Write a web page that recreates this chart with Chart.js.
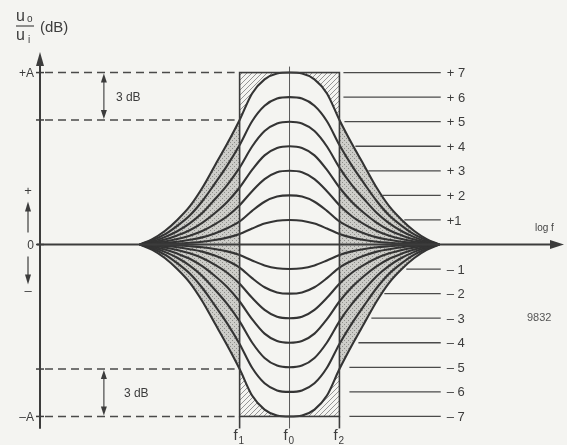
<!DOCTYPE html>
<html>
<head>
<meta charset="utf-8">
<script src="https://cdn.jsdelivr.net/npm/chart.js@4.4.1/dist/chart.umd.min.js"></script>
<style>
  html, body { margin: 0; padding: 0; background: #f4f4f1; }
  #wrap { width: 567px; height: 445px; position: relative; }
</style>
</head>
<body>
<div id="wrap"><canvas id="eqChart"></canvas></div>
<script>
// half of each bell: log f offset from f0 (f1 = -1, f2 = +1)
const offsets = [0, 0.25, 0.5, 0.75, 1, 1.25, 1.5, 1.75, 2, 2.25, 2.5, 2.75, 3];
const levels = [1, 2, 3, 4, 5, 6, 7];
const curve1 = [1, 0.97, 0.85, 0.65, 0.43, 0.28, 0.18, 0.11, 0.07, 0.04, 0.02, 0.01, 0];
const curve2 = [2, 1.95, 1.74, 1.37, 0.94, 0.66, 0.45, 0.29, 0.19, 0.11, 0.06, 0.03, 0];
const curve3 = [3, 2.94, 2.66, 2.17, 1.60, 1.15, 0.82, 0.55, 0.36, 0.22, 0.12, 0.05, 0];
const curve4 = [4, 3.93, 3.63, 3.04, 2.32, 1.73, 1.27, 0.88, 0.58, 0.37, 0.20, 0.08, 0];
const curve5 = [5, 4.93, 4.62, 3.99, 3.13, 2.42, 1.83, 1.28, 0.86, 0.54, 0.30, 0.12, 0];
const curve6 = [6, 5.94, 5.65, 5.02, 4.05, 3.21, 2.47, 1.76, 1.18, 0.76, 0.41, 0.17, 0];
const curve7 = [7, 6.96, 6.72, 6.15, 5.07, 4.10, 3.20, 2.30, 1.55, 1.00, 0.55, 0.22, 0];
const curves = [curve1, curve2, curve3, curve4, curve5, curve6, curve7];

const boostLabels = ['+1', '+ 2', '+ 3', '+ 4', '+ 5', '+ 6', '+ 7'];
const cutLabels = ['\u2013 1', '\u2013 2', '\u2013 3', '\u2013 4', '\u2013 5', '\u2013 6', '\u2013 7'];
const sideTicks = ['+A', '0', '\u2013A'];
const sideTickValues = [7, 0, -7];
const freqNames = ['1', '0', '2'];
const freqValues = [-1, 0, 1];
const band3dB = 5.07; // level where the outer curve crosses f1 / f2

function mirror(vals, sign) {
    const pts = [];
    for (let i = offsets.length - 1; i > 0; i--) pts.push({ x: -offsets[i], y: sign * vals[i] });
    offsets.forEach((u, i) => pts.push({ x: u, y: sign * vals[i] }));
    return pts;
}

const datasets = [];
levels.forEach((k, i) => {
    datasets.push({ label: '+' + k, data: mirror(curves[i], 1) });
    datasets.push({ label: '-' + k, data: mirror(curves[i], -1) });
});
datasets.forEach(d => {
    d.borderColor = '#343434';
    d.borderWidth = 2.1;
    d.pointRadius = 0;
    d.fill = false;
    d.cubicInterpolationMode = 'monotone';
});

const INK = '#3c3c3c';
const FONT = '"Liberation Sans", Arial, sans-serif';

function makePattern(size, paint) {
    const c = document.createElement('canvas');
    c.width = size; c.height = size;
    paint(c.getContext('2d'));
    return c;
}
const stippleTile = makePattern(4, g => {
    g.fillStyle = '#cdcdc9'; g.fillRect(0, 0, 4, 4);
    g.fillStyle = '#8e8e8a'; g.fillRect(0, 0, 1, 1); g.fillRect(2, 2, 1, 1);
});
const hatchTile = makePattern(5, g => {
    g.strokeStyle = '#8a8a8a'; g.lineWidth = 0.9;
    g.beginPath();
    g.moveTo(0, 5); g.lineTo(5, 0);
    g.moveTo(-1, 1); g.lineTo(1, -1);
    g.moveTo(4, 6); g.lineTo(6, 4);
    g.stroke();
});

function linePoints(chart, label) {
    const i = chart.data.datasets.findIndex(d => d.label === label);
    const meta = chart.getDatasetMeta(i);
    if (meta.dataset.updateControlPoints) meta.dataset.updateControlPoints(chart.chartArea, 'x');
    return meta.data;
}

function trace(ctx, pts, reverse) {
    const list = reverse ? pts.slice().reverse() : pts;
    list.forEach((p, i) => {
        if (i === 0) { reverse ? ctx.lineTo(p.x, p.y) : ctx.moveTo(p.x, p.y); return; }
        const q = list[i - 1];
        if (q.cp1x === undefined) { ctx.lineTo(p.x, p.y); return; }
        if (!reverse) ctx.bezierCurveTo(q.cp2x, q.cp2y, p.cp1x, p.cp1y, p.x, p.y);
        else ctx.bezierCurveTo(q.cp1x, q.cp1y, p.cp2x, p.cp2y, p.x, p.y);
    });
}

function arrowHead(ctx, x, y, dir, len, half) {
    // dir: 'up' | 'down' | 'right'
    ctx.beginPath();
    ctx.moveTo(x, y);
    if (dir === 'up') { ctx.lineTo(x - half, y + len); ctx.lineTo(x + half, y + len); }
    if (dir === 'down') { ctx.lineTo(x - half, y - len); ctx.lineTo(x + half, y - len); }
    if (dir === 'right') { ctx.lineTo(x - len, y - half); ctx.lineTo(x - len, y + half); }
    ctx.closePath();
    ctx.fill();
}

function hline(ctx, x1, x2, y) { ctx.beginPath(); ctx.moveTo(x1, y); ctx.lineTo(x2, y); ctx.stroke(); }
function vline(ctx, x, y1, y2) { ctx.beginPath(); ctx.moveTo(x, y1); ctx.lineTo(x, y2); ctx.stroke(); }

const decor = {
    id: 'decor',
    beforeDatasetsDraw(chart) {
        const { ctx, chartArea: a, scales: { x, y } } = chart;
        const top = linePoints(chart, '+7');
        const bot = linePoints(chart, '-7');
        const xf1 = x.getPixelForValue(-1), xf2 = x.getPixelForValue(1);
        const yA = y.getPixelForValue(7), yB = y.getPixelForValue(-7), y0 = y.getPixelForValue(0);

        // stippled flanks outside f1..f2
        ctx.save();
        ctx.beginPath();
        ctx.rect(a.left, a.top, xf1 - a.left, a.bottom - a.top);
        ctx.rect(xf2, a.top, a.right - xf2, a.bottom - a.top);
        ctx.clip();
        ctx.beginPath();
        trace(ctx, top, false);
        trace(ctx, bot, true);
        ctx.closePath();
        ctx.fillStyle = ctx.createPattern(stippleTile, 'repeat');
        ctx.fill();
        ctx.restore();

        // hatched corners inside the box
        const hatch = ctx.createPattern(hatchTile, 'repeat');
        ctx.save();
        ctx.beginPath();
        ctx.rect(xf1, yA, xf2 - xf1, y0 - yA);
        ctx.clip();
        ctx.beginPath();
        trace(ctx, top, false);
        ctx.lineTo(top[top.length - 1].x, yA);
        ctx.lineTo(top[0].x, yA);
        ctx.closePath();
        ctx.fillStyle = hatch;
        ctx.fill();
        ctx.restore();

        ctx.save();
        ctx.beginPath();
        ctx.rect(xf1, y0, xf2 - xf1, yB - y0);
        ctx.clip();
        ctx.beginPath();
        trace(ctx, bot, false);
        ctx.lineTo(bot[bot.length - 1].x, yB);
        ctx.lineTo(bot[0].x, yB);
        ctx.closePath();
        ctx.fillStyle = hatch;
        ctx.fill();
        ctx.restore();

        // f0 centre line
        ctx.save();
        ctx.strokeStyle = '#5a5a5a';
        ctx.lineWidth = 1;
        vline(ctx, x.getPixelForValue(0), yA - 6, yB + 12);
        ctx.restore();
    },
    afterDatasetsDraw(chart) {
        const { ctx, chartArea: a, scales: { x, y } } = chart;
        const xf1 = x.getPixelForValue(-1), xf2 = x.getPixelForValue(1);
        const yA = y.getPixelForValue(7), yB = y.getPixelForValue(-7), y0 = y.getPixelForValue(0);
        const ax = a.left;

        ctx.save();
        ctx.strokeStyle = INK;
        ctx.fillStyle = INK;

        // box f1..f2 / +A..-A
        ctx.lineWidth = 1.6;
        ctx.strokeRect(xf1, yA, xf2 - xf1, yB - yA);
        vline(ctx, xf1, yB, yB + 12);
        vline(ctx, xf2, yB, yB + 12);

        // axes
        ctx.lineWidth = 2;
        vline(ctx, ax, a.top + 10, y.getPixelForValue(-7.5));
        arrowHead(ctx, ax, a.top + 4, 'up', 14, 4);
        hline(ctx, ax - 3, a.right - 8, y0);
        arrowHead(ctx, a.right, y0, 'right', 14, 4.5);

        // ticks + labels on the vertical axis
        ctx.lineWidth = 1.5;
        ctx.font = '12px ' + FONT;
        ctx.textBaseline = 'middle';
        ctx.textAlign = 'right';
        sideTickValues.forEach((v, i) => {
            const py = y.getPixelForValue(v);
            hline(ctx, ax - 4, ax + 4, py);
            ctx.fillText(sideTicks[i], ax - 6, py + 1);
        });
        hline(ctx, ax - 4, ax + 4, y.getPixelForValue(band3dB));
        hline(ctx, ax - 4, ax + 4, y.getPixelForValue(-band3dB));

        // + / - direction arrows
        const sx = ax - 12;
        ctx.textAlign = 'center';
        ctx.font = '13px ' + FONT;
        ctx.fillText('+', sx, y0 - 53);
        ctx.fillText('\u2013', sx, y0 + 47);
        ctx.lineWidth = 1.2;
        vline(ctx, sx, y0 - 12, y0 - 35);
        arrowHead(ctx, sx, y0 - 43, 'up', 10, 3);
        vline(ctx, sx, y0 + 12, y0 + 32);
        arrowHead(ctx, sx, y0 + 40, 'down', 10, 3);

        // dashed 3 dB band lines
        ctx.strokeStyle = '#4a4a4a';
        ctx.lineWidth = 1.5;
        ctx.setLineDash([8, 5]);
        [7, band3dB, -band3dB, -7].forEach(v => hline(ctx, ax + 5, xf1 - 5, y.getPixelForValue(v)));
        ctx.setLineDash([]);

        // 3 dB arrows
        const bx = x.getPixelForValue(-3.72);
        ctx.lineWidth = 1.2;
        [[7, band3dB], [-band3dB, -7]].forEach(([hi, lo]) => {
            const y1 = y.getPixelForValue(hi), y2 = y.getPixelForValue(lo);
            vline(ctx, bx, y1 + 6, y2 - 6);
            arrowHead(ctx, bx, y1 + 1, 'up', 9, 3);
            arrowHead(ctx, bx, y2 - 1, 'down', 9, 3);
            ctx.font = '12px ' + FONT;
            ctx.textAlign = 'left';
            ctx.fillText('3 dB', bx + 12 + (hi < 0 ? 8 : 0), (y1 + y2) / 2 + 1);
        });

        // level marker lines + labels on the right
        const boostStart = [2.3, 1.86, 1.58, 1.32, 1.1, 1.08, 1.08];
        const cutStart = [2.34, 1.9, 1.64, 1.38, 1.2, 1.2, 1.2];
        const xEnd = x.getPixelForValue(3.03);
        ctx.strokeStyle = '#4a4a4a';
        ctx.lineWidth = 1.3;
        ctx.font = '13px ' + FONT;
        ctx.textAlign = 'left';
        levels.forEach((k, i) => {
            let py = y.getPixelForValue(k);
            hline(ctx, x.getPixelForValue(boostStart[i]), xEnd, py);
            ctx.fillText(boostLabels[i], xEnd + 6, py + 1);
            py = y.getPixelForValue(-k);
            hline(ctx, x.getPixelForValue(cutStart[i]), xEnd, py);
            ctx.fillText(cutLabels[i], xEnd + 6, py + 1);
        });

        // frequency labels
        ctx.textAlign = 'left';
        ctx.textBaseline = 'alphabetic';
        freqValues.forEach((v, i) => {
            const px = x.getPixelForValue(v);
            ctx.font = '15px ' + FONT;
            ctx.fillText('f', px - 6, 440);
            ctx.font = '10px ' + FONT;
            ctx.fillText(freqNames[i], px - 1, 444);
        });

        // title u_o / u_i (dB)
        ctx.font = '16px ' + FONT;
        ctx.fillText('u', 16, 21);
        ctx.fillText('u', 16, 40);
        ctx.font = '10px ' + FONT;
        ctx.fillText('o', 27, 22);
        ctx.fillText('i', 28, 43);
        ctx.lineWidth = 1.2;
        hline(ctx, 16, 34, 26);
        ctx.font = '15px ' + FONT;
        ctx.fillText('(dB)', 40, 32);

        // log f + figure number
        ctx.font = '10px ' + FONT;
        ctx.fillStyle = '#444';
        ctx.fillText('log f', 535, 231);
        ctx.font = '11px ' + FONT;
        ctx.fillStyle = '#555';
        ctx.fillText('9832', 527, 321);
        ctx.restore();
    }
};

const chart = new Chart(document.getElementById('eqChart'), {
    type: 'line',
    data: { datasets },
    options: {
        animation: false,
        responsive: true,
        maintainAspectRatio: false,
        layout: { padding: { left: 40, right: 3, top: 48, bottom: 4 } },
        scales: {
            x: { type: 'linear', min: -5, max: 5.5, display: false },
            y: { type: 'linear', min: -8, max: 8, display: false }
        },
        plugins: { legend: { display: false }, tooltip: { enabled: false } }
    },
    plugins: [decor]
});
</script>
</body>
</html>
